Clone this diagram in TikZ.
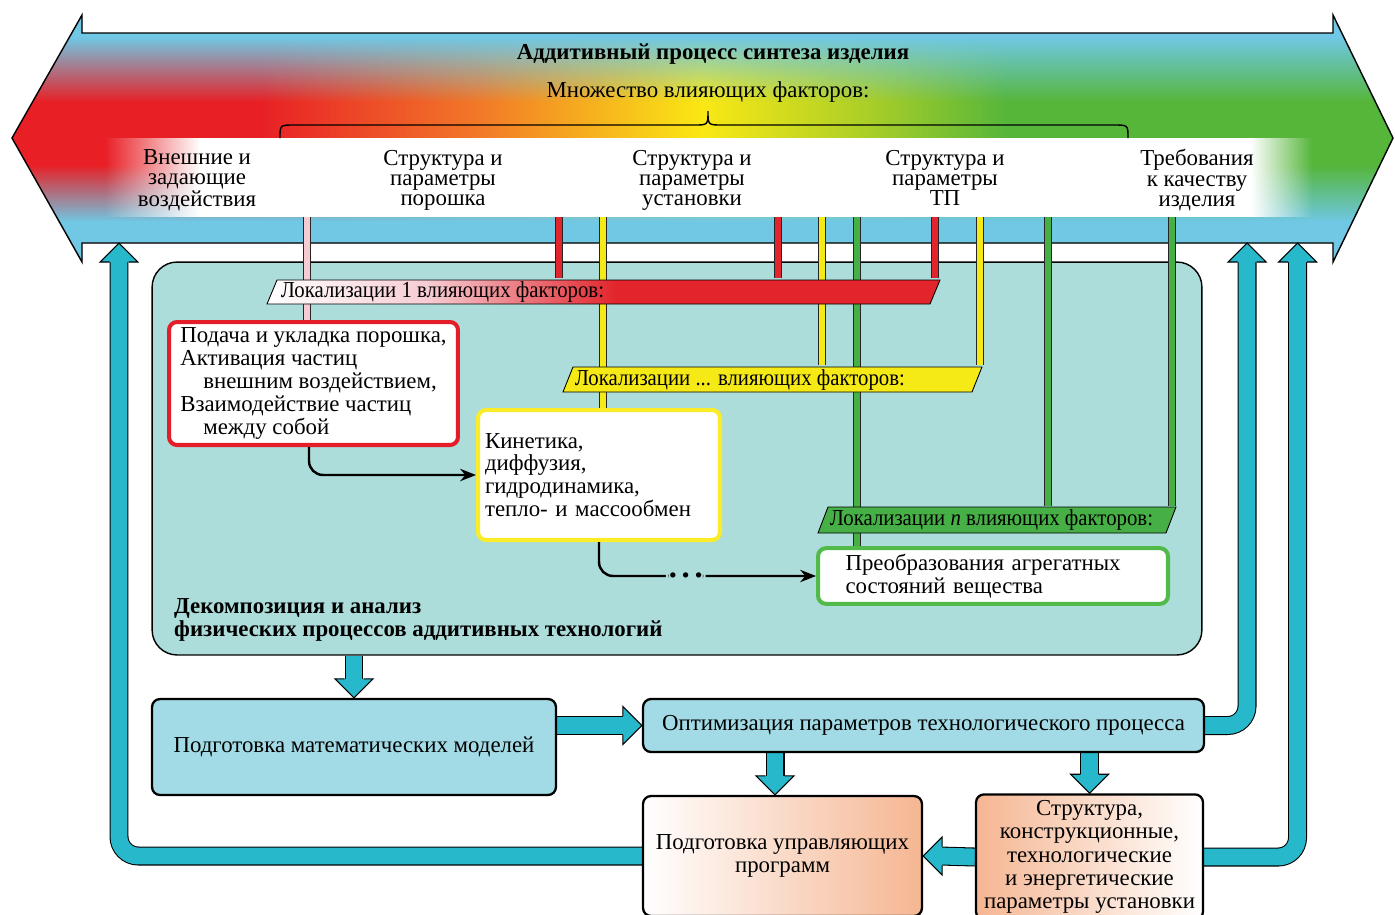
\documentclass[tikz,border=0pt]{standalone}
\usepackage{fontspec}
\setmainfont{Liberation Serif}
\newfontfamily\narrowfont[FakeStretch=0.91]{Liberation Serif}
\usetikzlibrary{arrows.meta,fadings,calc}

\definecolor{pipecol}{RGB}{40,184,204}
\definecolor{boxblue}{RGB}{162,219,229}
\definecolor{tealbg}{RGB}{172,221,219}
\definecolor{skyband}{RGB}{112,200,228}
\definecolor{bandred}{RGB}{232,32,38}
\definecolor{bandorange}{RGB}{242,122,40}
\definecolor{bandyellow}{RGB}{250,232,20}
\definecolor{bandlime}{RGB}{170,206,40}
\definecolor{bandgreen}{RGB}{86,182,58}
\definecolor{linered}{RGB}{226,36,44}
\definecolor{lineyellow}{RGB}{246,234,22}
\definecolor{linegreen}{RGB}{70,176,70}
\definecolor{linepink}{RGB}{246,204,210}
\definecolor{boxred}{RGB}{228,30,40}
\definecolor{boxyellow}{RGB}{250,236,40}
\definecolor{boxgreen}{RGB}{82,186,72}
\definecolor{peach}{RGB}{245,182,146}

\pgfdeclarehorizontalshading{bandshade}{100bp}{color(0bp)=(bandred); color(25bp)=(bandred); color(34bp)=(bandred); color(42bp)=(bandorange); color(50bp)=(bandyellow); color(56bp)=(bandlime); color(61bp)=(bandgreen); color(100bp)=(bandgreen)}
\pgfdeclarehorizontalshading{redbar}{100bp}{color(0bp)=(white); color(25bp)=(white); color(37bp)=(linepink); color(51bp)=(linered); color(100bp)=(linered)}

\tikzfading[name=fadedown, top color=transparent!0, bottom color=transparent!100]
\tikzfading[name=fadeup, top color=transparent!100, bottom color=transparent!0]
\tikzfading[name=fadein, left color=transparent!100, right color=transparent!0]
\tikzfading[name=fadeout, left color=transparent!0, right color=transparent!100]

\pgfdeclarelayer{bg}
\pgfdeclarelayer{mid}
\pgfsetlayers{bg,mid,main}

\newcommand{\basefont}{\fontsize{13}{13}\selectfont}

\tikzset{
    fathead/.pic={
        \path[fill=pipecol, draw=black, line width=0.6pt] (-19,-9.5) -- (-19,-19) -- (0,0) -- (-19,19) -- (-19,9.5);
    }
}

\begin{document}
\begin{tikzpicture}[x=0.02cm, y=-0.02cm, font=\basefont,
    feeder/.style={draw=black!85, line width=0.5pt, double=#1, double distance=3.6pt},
    pipeline/.style={draw=black, line width=0.6pt, double=pipecol, double distance=9.6pt, rounded corners=11pt},
    flowline/.style={draw=black, line width=1.4pt, rounded corners=8pt, -{Stealth[length=9pt, width=7pt]}},
    bartext/.style={anchor=west, inner sep=2pt, font=\narrowfont\basefont},
    boxframe/.style={draw=#1, line width=2.3pt, fill=white, rounded corners=0.16cm},
    procbox/.style={draw, line width=1.3pt, rounded corners=0.16cm, align=center}]

\useasboundingbox (0,0) rectangle (1395,914);

\begin{pgfonlayer}{bg}
    \fill[white] (0,0) rectangle (1395,914);
    % big double arrow
    \begin{scope}
        \clip (12,138) -- (82,15) -- (82,33) -- (1333,33) -- (1333,15) -- (1393,138)
            -- (1333,262) -- (1333,243) -- (82,243) -- (82,262) -- cycle;
        \shade[shading=bandshade] (12,15) rectangle (1393,262);
        \fill[skyband] (0,10) rectangle (1395,38);
        \fill[skyband, path fading=fadedown] (0,37) rectangle (1395,102);
        \fill[skyband, path fading=fadeup] (0,165) rectangle (1395,222);
        \fill[skyband] (0,221) rectangle (1395,265);
    \end{scope}
    \draw[line width=0.8pt] (12,138) -- (82,15) -- (82,33) -- (1333,33) -- (1333,15) -- (1393,138)
        -- (1333,262) -- (1333,243) -- (82,243) -- (82,262) -- cycle;
    \fill[white, path fading=fadein] (105,138) rectangle (200,217);
    \fill[white] (199,138) rectangle (1252,217);
    \fill[white, path fading=fadeout] (1251,138) rectangle (1312,217);
    \coordinate (stripbot) at (0,217);
    \draw[line width=0.8pt] (280,138) .. controls (280,125) .. (294,125) -- (694,125)
        .. controls (708,125) .. (708,111) .. controls (708,125) .. (722,125) -- (1114,125)
        .. controls (1128,125) .. (1128,138);

    \node[draw, line width=0.8pt, fill=tealbg, rounded corners=0.5cm,
        minimum width=21cm, minimum height=7.86cm] (decomp) at (677,458.5) {};
\end{pgfonlayer}

\node[font=\basefont\bfseries] (title) at (713,54) {Аддитивный процесс синтеза изделия};
\node (many) at (708,92) {Множество влияющих факторов:};

\begin{scope}[every node/.style={align=center, font=\fontsize{13}{11.6}\selectfont}]
    \node (ext) at (197,181) {Внешние и\\задающие\\воздействия\strut};
    \node (powder) at (443,181) {Структура и\\параметры\\порошка\strut};
    \node (plant) at (692,181) {Структура и\\параметры\\установки\strut};
    \node (tp) at (945,181) {Структура и\\параметры\\ТП\strut};
    \node (quality) at (1197,181) {Требования\\к качеству\\изделия\strut};
\end{scope}

% localisation bars
\shade[shading=redbar, draw, line width=0.5pt] (267,304) -- (277,280) -- (940,280) -- (930,304) -- cycle;
\node[bartext] (loc1) at (277,292) {Локализации 1 влияющих факторов:};
\filldraw[fill=lineyellow, line width=0.5pt] (563,392) -- (573,367) -- (982,367) -- (972,392) -- cycle;
\node[bartext] (loc2) at (571,379.5) {Локализации ... влияющих факторов:};
\filldraw[fill=linegreen, line width=0.5pt] (818,533) -- (828,507) -- (1176,507) -- (1166,533) -- cycle;
\node[bartext] (loc3) at (826,520) {Локализации \textit{n} влияющих факторов:};

\node[boxframe=boxred, minimum width=5.78cm, minimum height=2.46cm, align=left] (feedbox) at (313.5,383.5)
    {Подача и укладка порошка,\\Активация частиц\\\hspace*{0.46cm}внешним воздействием,\\Взаимодействие частиц\\\hspace*{0.46cm}между собой};
\node[boxframe=boxyellow, minimum height=2.6cm, text width=4.56cm, inner xsep=0.14cm, align=left] (kinbox) at (599,475)
    {Кинетика,\\диффузия,\\гидродинамика,\\тепло- и массообмен};
\node[boxframe=boxgreen, minimum height=0.96cm, text width=5.9cm, inner xsep=0.55cm, align=left] (phasebox) at (993,576)
    {Преобразования агрегатных\\состояний вещества};
\node[anchor=west, align=left, font=\basefont\bfseries] (decomptxt) at (168,620)
    {Декомпозиция и анализ\\физических процессов аддитивных технологий};

\draw[flowline] (feedbox.south -| 309,0) |- (kinbox.west);
\draw[flowline] (kinbox.south) |- node[pos=0.7, fill=tealbg, inner sep=2pt, font=\scriptsize] (gap) {$\bullet\,\bullet\,\bullet$} (phasebox.west);

% lower blocks
\node[procbox, fill=boxblue, minimum width=8.08cm, minimum height=1.92cm] (mathbox) at (354,747) {Подготовка математических моделей};
\node[procbox, fill=boxblue, minimum width=11.22cm, minimum height=1.06cm] (optbox) at (923.5,725.5) {Оптимизация параметров технологического процесса};
\node[procbox, left color=white, right color=peach, minimum width=5.58cm, minimum height=2.4cm] (progbox) at (782.5,856)
    {Подготовка управляющих\\программ};
\node[procbox, left color=peach, right color=white, inner xsep=2pt, minimum width=4.54cm, minimum height=2.44cm,
    font=\fontsize{13}{13.3}\selectfont] (structbox) at (1089.5,857)
    {Структура,\\конструкционные,\\технологические\\и энергетические\\параметры установки};

\begin{pgfonlayer}{mid}
    % feeders from the factor groups
    \draw[feeder=linepink] (307,0 |- stripbot) -- (307,0 |- feedbox.north);
    \foreach \x in {559,778,935}
        \draw[feeder=linered] (\x,0 |- stripbot) -- (\x,0 |- loc1.north);
    \foreach \x in {822,980}
        \draw[feeder=lineyellow] (\x,0 |- stripbot) -- (\x,0 |- loc2.north);
    \draw[feeder=lineyellow] (603,0 |- stripbot) -- (603,0 |- kinbox.north);
    \foreach \x in {1048,1172}
        \draw[feeder=linegreen] (\x,0 |- stripbot) -- (\x,0 |- loc3.north);
    \draw[feeder=linegreen] (857,0 |- stripbot) -- (857,0 |- phasebox.north);

    % fat arrows
    \coordinate (bandL) at (119,243);
    \coordinate (bandA) at (1247,243);
    \coordinate (bandB) at (1297.5,243);
    \draw[pipeline] (progbox.west) -| ($(bandL)+(0,17)$);
    \pic[rotate=90] at (bandL) {fathead};
    \draw[pipeline] (optbox.east) -| ($(bandA)+(0,17)$);
    \pic[rotate=90] at (bandA) {fathead};
    \draw[pipeline] (structbox.east) -| ($(bandB)+(0,17)$);
    \pic[rotate=90] at (bandB) {fathead};

    \draw[pipeline] (mathbox.north |- decomp.south) -- ($(mathbox.north)+(0,-17)$);
    \pic[rotate=-90] at (mathbox.north) {fathead};
    \draw[pipeline] (mathbox.east |- optbox.west) -- ($(optbox.west)+(-17,0)$);
    \pic at (optbox.west) {fathead};
    \draw[pipeline] (775,0 |- optbox.south) -- ($(775,0 |- progbox.north)+(0,-17)$);
    \pic[rotate=-90] at (775,0 |- progbox.north) {fathead};
    \draw[pipeline] (structbox.north |- optbox.south) -- ($(structbox.north)+(0,-17)$);
    \pic[rotate=-90] at (structbox.north) {fathead};
    \draw[pipeline] (structbox.west) -- ($(progbox.east)+(17,0)$);
    \pic[rotate=180] at (progbox.east) {fathead};
\end{pgfonlayer}
\end{tikzpicture}
\end{document}
